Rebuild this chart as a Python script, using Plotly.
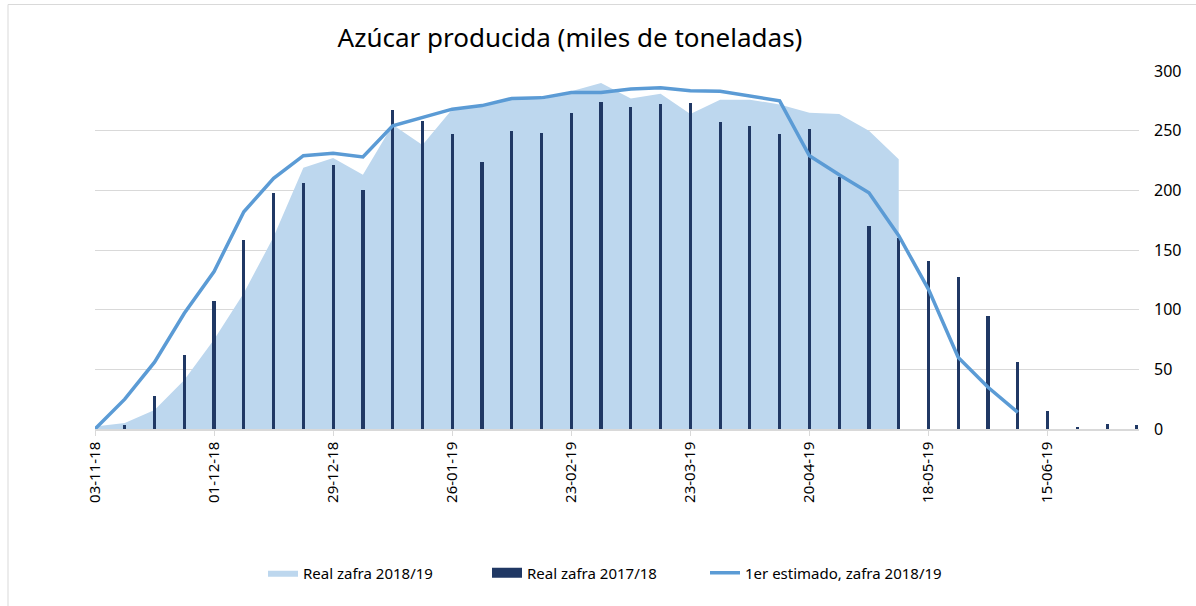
import pandas as pd
import plotly.graph_objects as go

# Weekly dates (Saturdays), starting 03-11-18
weeks = pd.date_range("2018-11-03", periods=36, freq="7D")

real_1819 = [2, 5, 16, 41, 75, 114, 161, 219, 227, 213, 255, 238, 268, 270, 277, 276,
             283, 290, 277, 281, 264, 276, 276, 272, 265, 264, 250, 226]
real_1718 = [0, 3, 28, 62, 107, 158, 198, 206, 221, 200, 267, 258, 247, 224, 250, 248,
             265, 274, 270, 272, 273, 257, 254, 247, 251, 211, 170, 160, 141, 127, 95,
             56, 15, 2, 4, 3]
estimado_1819 = [0, 25, 56, 97, 132, 182, 210, 229, 231, 228, 254, 261, 268, 271, 277, 277.5,
                 282, 282, 285, 286, 283.5, 283, 279, 275, 229, 213, 198, 162, 117, 60, 35, 14]

tick_dates = weeks[::4]
tick_labels = [d.strftime("%d-%m-%y") for d in tick_dates]

names = ["Real zafra 2018/19", "Real zafra 2017/18", "1er estimado, zafra 2018/19"]
title_text = "Azúcar producida (miles de toneladas)"

FONT = "Noto Sans"
NAVY = "#203864"

fig = go.Figure()
fig.add_trace(go.Scatter(
    x=weeks[:len(real_1819)], y=real_1819, name=names[0], mode="lines",
    line=dict(width=0, color="#bdd7ee"), fill="tozeroy", fillcolor="#bdd7ee",
    xaxis="x", yaxis="y", legend="legend"))
fig.add_trace(go.Bar(
    x=weeks, y=real_1718, name=names[1], marker=dict(color=NAVY, line=dict(width=0)),
    width=0.75 * 86400000, xaxis="x", yaxis="y2", showlegend=False))
# legend swatch for the bar series (wide rectangle, as in the original legend)
fig.add_trace(go.Scatter(
    x=[None], y=[None], name=names[1], mode="lines", line=dict(width=10, color=NAVY),
    xaxis="x", yaxis="y2", legend="legend2", hoverinfo="skip"))
fig.add_trace(go.Scatter(
    x=weeks[:len(estimado_1819)], y=estimado_1819, name=names[2], mode="lines",
    line=dict(width=3.5, color="#5b9bd5"), xaxis="x", yaxis="y2", legend="legend3"))

L, R, T, B = 95, 1139, 71, 429
W, H = 1196, 606
pw, ph = R - L, B - T

def px_x(px):
    return (px - L) / pw

def px_y(py):
    return (B - py) / ph

TEXT_OFFSET = 40

def legend_at(text_x):
    return dict(orientation="h", x=px_x(text_x - TEXT_OFFSET), xanchor="left",
                y=px_y(573), yanchor="middle", font=dict(size=15, family=FONT),
                itemwidth=30, bgcolor="rgba(0,0,0,0)")

fig.update_layout(
    width=W, height=H,
    margin=dict(l=L, r=W - R, t=T, b=H - B),
    paper_bgcolor="white", plot_bgcolor="white",
    font=dict(family=FONT, color="#000000"),
    title=dict(text=title_text, xref="container", x=570 / W, xanchor="center",
               yref="container", y=1 - 38 / H, yanchor="middle",
               font=dict(size=26, family=FONT, color="#000000")),
    showlegend=True,
    legend=legend_at(303),
    legend2=legend_at(527),
    legend3=legend_at(745),
    bargap=0,
    xaxis=dict(type="date",
               range=[weeks[0], weeks[-1] + pd.Timedelta(hours=12)],
               tickvals=list(tick_dates), ticktext=tick_labels, tickangle=-90,
               tickfont=dict(size=15, family=FONT),
               showgrid=False, showline=True, linecolor="#d9d9d9", linewidth=1.5,
               ticks="outside", ticklen=5, tickcolor="#d9d9d9", zeroline=False),
    yaxis=dict(range=[0, 300], dtick=50, side="right", showgrid=True, gridcolor="#d9d9d9",
               gridwidth=1, zeroline=False, showline=False, ticks="",
               tickfont=dict(size=16, family=FONT), ticklabelstandoff=14),
    yaxis2=dict(range=[0, 300], overlaying="y", visible=False, showgrid=False),
    shapes=[dict(type="rect", xref="paper", yref="paper",
                 x0=px_x(8), x1=px_x(1210), y0=px_y(620), y1=px_y(4.5),
                 line=dict(color="#d9d9d9", width=1), fillcolor="rgba(0,0,0,0)", layer="below")],
)

fig.write_html("out.html", config={"displayModeBar": False},
               post_script="document.body.style.margin='0px';document.body.style.overflow='hidden';")
